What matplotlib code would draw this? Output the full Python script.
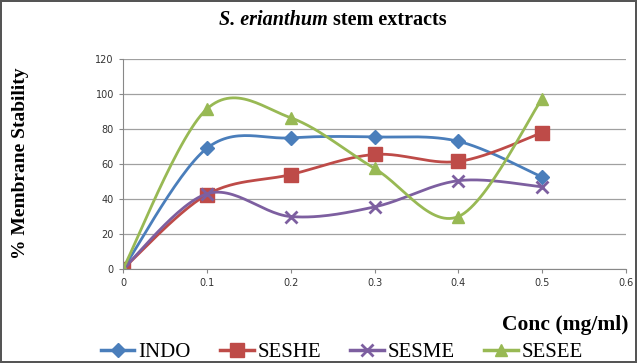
import numpy as np
import matplotlib.pyplot as plt
from matplotlib.lines import Line2D

conc = [0, 0.1, 0.2, 0.3, 0.4, 0.5]
indo = [0, 69, 75, 75.5, 73, 52.5]
seshe = [0, 42.5, 54, 65.5, 61.5, 78]
sesme = [0, 43, 30, 35.5, 50.5, 47]
sesee = [0, 91.5, 86.5, 57.5, 30, 97.5]

names = ['INDO', 'SESHE', 'SESME', 'SESEE']
colors = ['#4a7ebb', '#be4b48', '#7d5fa0', '#98b954']
markers = ['D', 's', 'x', '^']
msizes = [7, 10, 8, 9]


def smooth(x, y, n=30):
    # bezier smoothing like excel's smoothed line
    p = np.column_stack([x, y]).astype(float)
    pts = np.vstack([p[0], p, p[-1]])
    out = []
    for i in range(1, len(pts) - 2):
        p0, p1, p2, p3 = pts[i - 1], pts[i], pts[i + 1], pts[i + 2]
        c1 = p1 + (p2 - p0) / 6
        c2 = p2 - (p3 - p1) / 6
        t = np.linspace(0, 1, n)[:, None]
        seg = (1 - t) ** 3 * p1 + 3 * (1 - t) ** 2 * t * c1 + 3 * (1 - t) * t ** 2 * c2 + t ** 3 * p2
        out.append(seg)
    out = np.vstack(out)
    return out[:, 0], out[:, 1]


fig = plt.figure(figsize=(6.37, 3.63), dpi=100)
fig.patch.set_edgecolor('#555555')
fig.patch.set_linewidth(1.5)
ax = fig.add_axes([0.193, 0.259, 0.79, 0.578])

handles = []
for vals, name, c, m, ms in zip([indo, seshe, sesme, sesee], names, colors, markers, msizes):
    sx, sy = smooth(conc, vals)
    ax.plot(sx, sy, color=c, lw=2)
    mew = 2 if m == 'x' else 1
    ax.plot(conc, vals, ls='none', marker=m, color=c, ms=ms, mew=mew)
    handles.append(Line2D([], [], color=c, lw=2.5, marker=m, ms=ms, mew=mew))

ax.set_xlim(0, 0.6)
ax.set_ylim(0, 120)
ax.set_xticks(np.arange(0, 0.61, 0.1))
ax.set_xticklabels(['0', '0.1', '0.2', '0.3', '0.4', '0.5', '0.6'])
ax.set_yticks(range(0, 121, 20))
ax.yaxis.grid(True, color='#a0a0a0', lw=0.9)
ax.set_axisbelow(True)
for s in ['top', 'right']:
    ax.spines[s].set_visible(False)
ax.spines['left'].set_color('#888888')
ax.spines['bottom'].set_color('#888888')
ax.tick_params(labelsize=7, colors='#333333', length=3, color='#888888')

fig.text(0.515, 0.945, 'S. erianthum', ha='right', va='center', family='Liberation Serif',
         style='italic', weight='bold', fontsize=14.5)
fig.text(0.515, 0.945, ' stem extracts', ha='left', va='center', family='Liberation Serif',
         weight='bold', fontsize=14.5)
fig.text(0.032, 0.55, '% Membrane Stability', rotation=90, ha='center', va='center',
         family='Liberation Serif', weight='bold', fontsize=14)
fig.text(0.987, 0.105, 'Conc (mg/ml)', ha='right', va='center', family='Liberation Serif',
         weight='bold', fontsize=15.5)

fig.legend(handles, names, loc='center', bbox_to_anchor=(0.537, 0.03), ncol=4, frameon=False,
           prop={'family': 'Liberation Serif', 'size': 15}, handlelength=1.6, handletextpad=0.2,
           columnspacing=1.4)

fig.savefig('out.png', dpi=100)
